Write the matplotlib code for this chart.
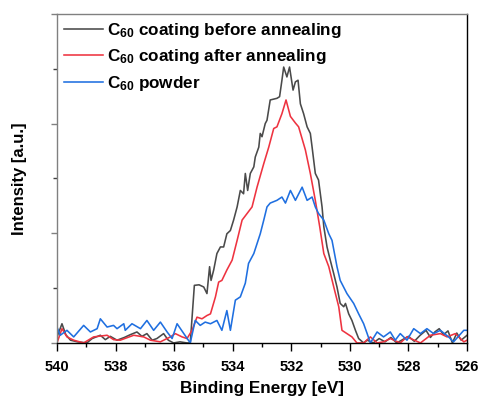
import numpy as np
import matplotlib
matplotlib.use('Agg')
import matplotlib.pyplot as plt
from matplotlib.ticker import MultipleLocator, NullFormatter

plt.rcParams['font.family'] = ['Liberation Sans', 'DejaVu Sans']
plt.rcParams['mathtext.fontset'] = 'custom'
plt.rcParams['mathtext.bf'] = 'Liberation Sans:bold'
plt.rcParams['mathtext.rm'] = 'Liberation Sans'

# C60 coating before annealing (binding energy [eV], intensity [a.u.])
E_before = [540.00, 539.90, 539.83, 539.70, 539.54, 539.30, 538.98, 538.80, 538.52, 538.35,
            538.18, 537.95, 537.70, 537.50, 537.27, 537.10, 536.93, 536.75, 536.59, 536.36,
            536.20, 536.02, 535.80, 535.56, 535.45, 535.31, 535.15, 534.99, 534.88, 534.79,
            534.74, 534.65, 534.54, 534.42, 534.31, 534.20, 534.08, 533.97, 533.85, 533.74,
            533.63, 533.57, 533.49, 533.40, 533.28, 533.23, 533.11, 533.06, 533.00, 532.89,
            532.83, 532.72, 532.49, 532.40, 532.32, 532.26, 532.15, 532.06, 531.94, 531.86,
            531.77, 531.69, 531.58, 531.46, 531.35, 531.29, 531.18, 531.07, 530.95, 530.89,
            530.78, 530.67, 530.55, 530.44, 530.33, 530.21, 530.15, 530.04, 529.93, 529.81,
            529.70, 529.53, 529.41, 529.20, 529.00, 528.80, 528.60, 528.40, 528.20, 528.00,
            527.80, 527.60, 527.40, 527.25, 527.10, 526.95, 526.80, 526.65, 526.50, 526.35,
            526.20, 526.00]
I_before = [0.11, 0.25, 0.35, 0.15, 0.05, 0.02, 0.00, 0.08, 0.14, 0.06,
            0.12, 0.05, 0.10, 0.15, 0.20, 0.12, 0.17, 0.05, 0.08, 0.17,
            0.05, 0.00, 0.02, 0.00, 0.00, 1.05, 1.06, 1.02, 0.90, 1.39,
            1.14, 1.33, 1.63, 1.75, 1.75, 1.99, 2.05, 2.24, 2.48, 2.78,
            2.72, 3.09, 2.78, 3.09, 3.21, 3.39, 3.57, 3.82, 3.76, 4.00,
            4.06, 4.43, 4.46, 4.49, 4.79, 5.03, 4.85, 5.03, 4.61, 4.76,
            4.79, 4.36, 4.18, 3.94, 3.82, 3.57, 3.09, 2.97, 2.48, 2.12,
            1.75, 1.51, 1.26, 1.02, 0.72, 0.66, 0.72, 0.53, 0.41, 0.23,
            0.08, 0.00, 0.05, 0.00, 0.08, 0.02, 0.10, 0.00, 0.06, 0.12,
            0.03, 0.14, 0.23, 0.10, 0.20, 0.26, 0.15, 0.22, 0.00, 0.18,
            0.05, 0.14]

# C60 coating after annealing
E_after = [540.00, 539.83, 539.66, 539.43, 539.09, 538.75, 538.29, 538.07, 537.84, 537.38,
           537.04, 536.81, 536.47, 536.13, 535.96, 535.73, 535.56, 535.39, 535.22, 535.05,
           534.88, 534.76, 534.59, 534.48, 534.37, 534.20, 534.02, 533.85, 533.68, 533.51,
           533.34, 533.17, 532.94, 532.77, 532.60, 532.49, 532.32, 532.18, 532.03, 531.86,
           531.75, 531.52, 531.35, 531.18, 531.03, 530.89, 530.72, 530.55, 530.38, 530.27,
           530.10, 529.93, 529.76, 529.53, 529.30, 529.07, 528.85, 528.62, 528.28, 528.05,
           527.59, 527.25, 526.91, 526.68, 526.40, 526.11, 526.00]
I_after = [0.00, 0.26, 0.11, 0.05, 0.00, 0.11, 0.14, 0.06, 0.05, 0.14,
           0.11, 0.05, 0.02, 0.11, 0.17, 0.11, 0.08, 0.23, 0.47, 0.44,
           0.50, 0.53, 0.84, 1.11, 1.14, 1.33, 1.51, 1.87, 2.24, 2.36,
           2.48, 2.84, 3.27, 3.57, 3.91, 3.94, 4.18, 4.43, 4.13, 4.01,
           3.94, 3.52, 3.09, 2.60, 2.12, 1.63, 1.39, 1.02, 0.66, 0.23,
           0.17, 0.11, 0.00, 0.00, 0.11, 0.00, 0.02, 0.08, 0.00, 0.11,
           0.00, 0.14, 0.17, 0.11, 0.17, 0.02, 0.05]

# C60 powder
E_powder = [540.00, 539.89, 539.66, 539.43, 539.09, 538.86, 538.63, 538.52, 538.29, 538.07,
            537.95, 537.72, 537.67, 537.44, 537.15, 536.93, 536.70, 536.47, 536.24, 536.07,
            535.90, 535.67, 535.45, 535.28, 535.11, 534.94, 534.76, 534.54, 534.37, 534.20,
            534.08, 533.91, 533.74, 533.57, 533.46, 533.28, 533.06, 532.94, 532.83, 532.72,
            532.49, 532.32, 532.20, 532.03, 531.86, 531.63, 531.46, 531.29, 531.18, 531.07,
            530.89, 530.72, 530.61, 530.44, 530.33, 530.10, 529.87, 529.70, 529.53, 529.41,
            529.30, 529.07, 528.85, 528.62, 528.45, 528.28, 528.05, 527.82, 527.59, 527.37,
            527.14, 526.91, 526.63, 526.46, 526.11, 526.00]
I_powder = [0.29, 0.14, 0.23, 0.11, 0.32, 0.20, 0.26, 0.44, 0.29, 0.32,
            0.26, 0.35, 0.23, 0.35, 0.26, 0.41, 0.23, 0.38, 0.20, 0.08,
            0.35, 0.17, 0.00, 0.41, 0.32, 0.38, 0.35, 0.41, 0.23, 0.59,
            0.23, 0.78, 0.84, 1.09, 1.45, 1.63, 1.99, 2.24, 2.48, 2.55,
            2.60, 2.66, 2.55, 2.78, 2.60, 2.84, 2.60, 2.66, 2.48, 2.36,
            2.24, 1.99, 1.87, 1.39, 1.14, 0.90, 0.72, 0.53, 0.35, 0.17,
            0.00, 0.20, 0.11, 0.20, 0.05, 0.17, 0.05, 0.26, 0.17, 0.26,
            0.17, 0.23, 0.11, 0.02, 0.23, 0.23]

labels = [r'$\mathbf{C_{60}}$ coating before annealing',
          r'$\mathbf{C_{60}}$ coating after annealing',
          r'$\mathbf{C_{60}}$ powder']
colors = ['#4a4a4a', '#ee3340', '#1f6fe0']

fig = plt.figure(figsize=(4.79, 3.96), dpi=100)
ax = fig.add_axes([0.119, 0.134, 0.856, 0.831])

ax.plot(E_before, I_before, color=colors[0], lw=1.15, label=labels[0])
ax.plot(E_after, I_after, color=colors[1], lw=1.15, label=labels[1])
ax.plot(E_powder, I_powder, color=colors[2], lw=1.15, label=labels[2])

ax.set_xlim(540, 526)
ax.set_ylim(0, 6)

ax.xaxis.set_major_locator(MultipleLocator(2))
ax.xaxis.set_minor_locator(MultipleLocator(1))
ax.yaxis.set_major_locator(MultipleLocator(2))
ax.yaxis.set_minor_locator(MultipleLocator(1))
ax.yaxis.set_major_formatter(NullFormatter())

ax.tick_params(axis='x', which='major', direction='out', length=6, width=1,
               labelsize=10.5, pad=6)
ax.tick_params(axis='x', which='minor', direction='out', length=3, width=1)
ax.tick_params(axis='y', which='major', direction='out', length=4, width=1,
               color='#808080')
ax.tick_params(axis='y', which='minor', direction='out', length=3, width=1,
               color='#404040')
for lab in ax.get_xticklabels():
    lab.set_fontweight('bold')

ax.spines['left'].set_color('#808080')
ax.spines['top'].set_color('#808080')
ax.spines['bottom'].set_color('black')
ax.spines['right'].set_color('black')
for s in ax.spines.values():
    s.set_linewidth(1.0)

ax.set_xlabel('Binding Energy [eV]', fontsize=12.3, fontweight='bold', labelpad=5)
ax.set_ylabel('Intensity [a.u.]', fontsize=12, fontweight='bold', labelpad=14)

leg = ax.legend(loc='upper left', frameon=False,
                prop={'weight': 'bold', 'size': 12.3},
                handlelength=2.3, handletextpad=0.25, labelspacing=0.45,
                borderaxespad=0.0, bbox_to_anchor=(0.0, 1.0))

fig.savefig('out.png', dpi=100)
